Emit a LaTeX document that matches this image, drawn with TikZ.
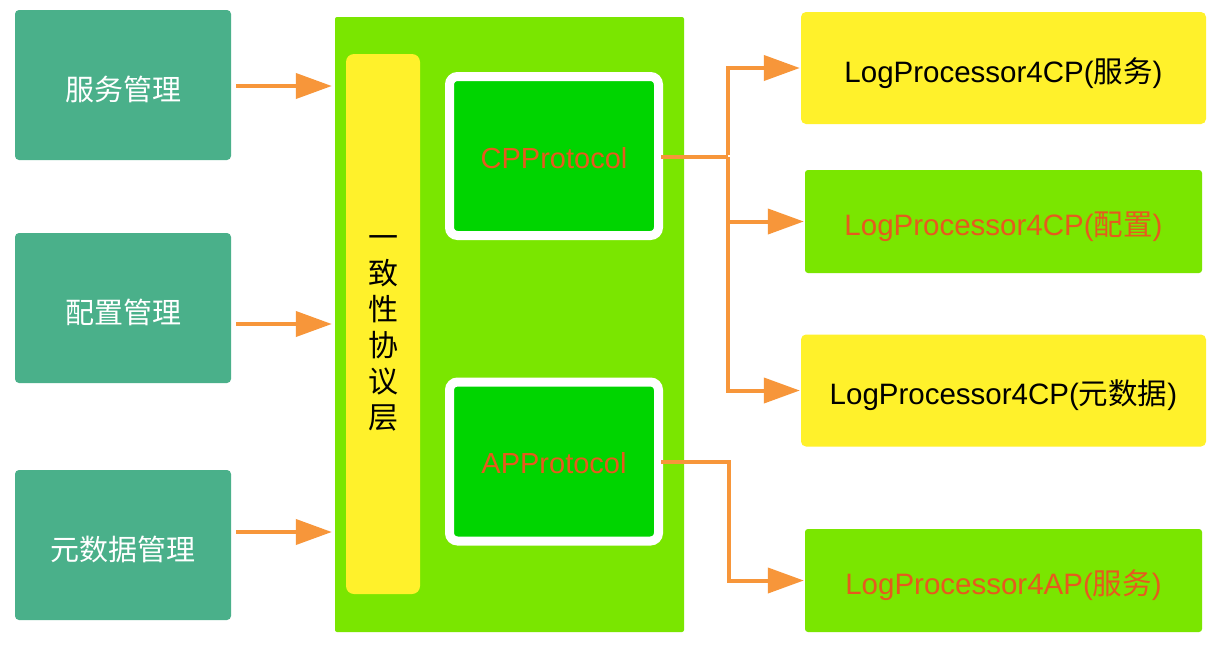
\documentclass[tikz,border=0pt]{standalone}
\usepackage{fontspec}
\setmainfont{Liberation Sans}
\newfontfamily\cjk{Noto Sans CJK SC}
\usetikzlibrary{arrows.meta}
\definecolor{teal}{HTML}{4AB08A}
\definecolor{lgreen}{HTML}{7AE600}
\definecolor{byellow}{HTML}{FFF12B}
\definecolor{dgreen}{HTML}{00D500}
\definecolor{arrorange}{HTML}{F7963A}
\definecolor{txtorange}{HTML}{E65A1E}
\newcommand{\lowr}[2]{\raisebox{-#1pt}[\height][\depth]{#2}}
\tikzset{
  leftbox/.style={rectangle, rounded corners=4pt, fill=teal, text=white, minimum width=216pt, minimum height=150pt, inner sep=0pt, font=\cjk\fontsize{29}{34}\selectfont},
  ybox/.style={rectangle, rounded corners=5pt, fill=byellow, text=black, minimum width=405pt, minimum height=112pt, inner sep=0pt, font=\fontsize{29.5}{34}\selectfont},
  gbox/.style={rectangle, rounded corners=3pt, fill=lgreen, text=txtorange, minimum width=397pt, minimum height=103pt, inner sep=0pt, font=\fontsize{29.5}{34}\selectfont},
  protobox/.style={rectangle, rounded corners=8pt, fill=dgreen, draw=white, line width=9pt, minimum width=209pt, minimum height=159pt, inner sep=0pt, text=txtorange, font=\fontsize{29}{34}\selectfont},
  arr/.style={draw=arrorange, line width=4pt, -{Triangle[length=36pt,width=25pt]}},
  conn/.style={draw=arrorange, line width=4pt},
}
\begin{document}
\begin{tikzpicture}[x=1pt,y=-1pt]
\useasboundingbox (0,0) rectangle (1218,646);
\fill[white] (0,0) rectangle (1218,646);
% left boxes
\node[leftbox] (s1) at (123,85) {\lowr{4}{服务管理}};
\node[leftbox] (s2) at (123,308) {\lowr{4}{配置管理}};
\node[leftbox] (s3) at (123,545) {\lowr{4}{元数据管理}};
% core
\node[rectangle, fill=lgreen, rounded corners=2pt, minimum width=349pt, minimum height=615pt, inner sep=0pt] (core) at (509.5,324.5) {};
\node[rectangle, fill=byellow, rounded corners=8pt, minimum width=74pt, minimum height=540pt, inner sep=0pt] (bar) at (383,324) {};
\node[align=center, font=\cjk\fontsize{30}{36}\selectfont, inner sep=0pt] (vt) at (383,333) {一\\致\\性\\协\\议\\层};
\node[protobox] (cp) at (554,156) {\lowr{2}{CPProtocol}};
\node[protobox] (ap) at (554,461.5) {\lowr{2}{APProtocol}};
% right boxes
\node[ybox] (r1) at (1003.5,68) {\lowr{5}{LogProcessor4CP({\cjk 服务})}};
\node[gbox] (r2) at (1003.5,221.5) {\lowr{5}{LogProcessor4CP({\cjk 配置})}};
\node[ybox] (r3) at (1003.5,390.5) {\lowr{5}{LogProcessor4CP({\cjk 元数据})}};
\node[gbox] (r4) at (1003.5,580.5) {\lowr{5}{LogProcessor4AP({\cjk 服务})}};
% left arrows
\coordinate (c1) at ([shift={(5pt,-1pt)}]s1.east);
\coordinate (c2) at ([shift={(5pt,-16pt)}]s2.east);
\coordinate (c3) at ([shift={(5pt,13pt)}]s3.east);
\draw[arr] (c1) -- ([xshift=-3pt]c1 -| core.west);
\draw[arr] (c2) -- ([xshift=-3pt]c2 -| core.west);
\draw[arr] (c3) -- ([xshift=-3pt]c3 -| core.west);
% right connectors
\coordinate (cpj) at (728,157);
\coordinate (apj) at (729,462);
\draw[conn] ([xshift=-2pt]cp.east |- cpj) -- (cpj);
\draw[arr] ([yshift=2pt]cpj) |- ([xshift=-1pt]r1.west);
\draw[arr] (cpj) |- ([xshift=-1pt]r2.west);
\draw[arr] ([yshift=-2pt]cpj) |- ([xshift=-1pt]r3.west);
\draw[conn] ([xshift=-2pt]ap.east |- apj) -- ([xshift=2pt]apj);
\draw[arr] ([yshift=2pt]apj) |- ([xshift=-1pt]r4.west);
\end{tikzpicture}
\end{document}
